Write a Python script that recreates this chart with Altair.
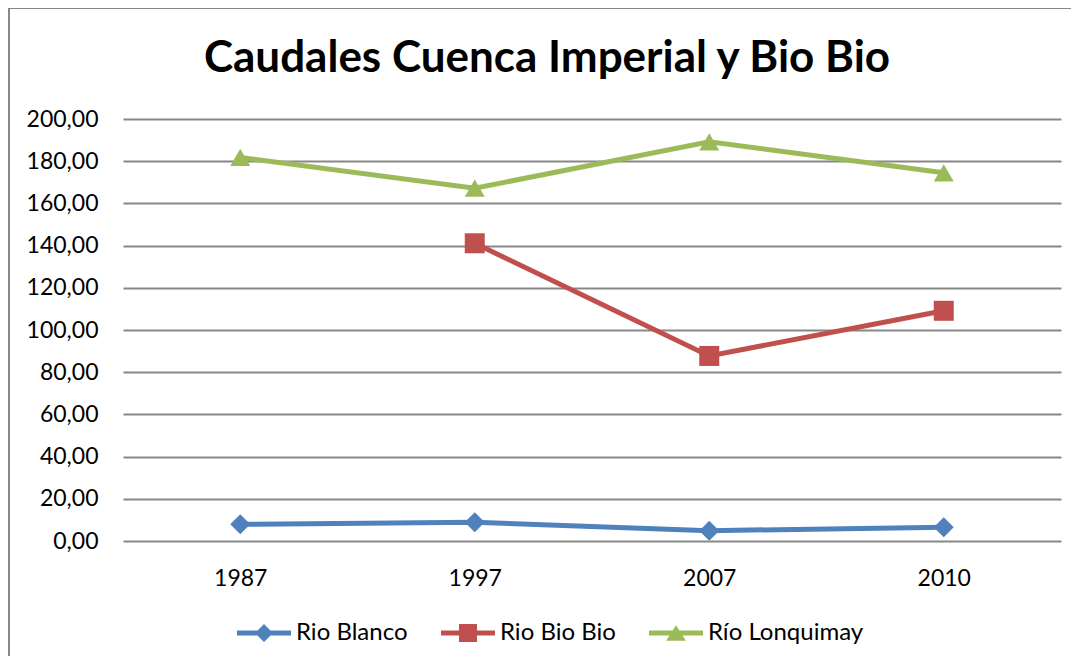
import altair as alt
import pandas as pd

years = ["1987", "1997", "2007", "2010"]
series = ["Rio Blanco", "Rio Bio Bio", "Río Lonquimay"]
rio_blanco = [7.9, 8.9, 4.9, 6.5]
rio_bio_bio = [None, 141.1, 87.7, 109.1]
rio_lonquimay = [181.8, 167.2, 189.2, 174.5]
colors = ["#4F81BD", "#C0504D", "#9BBB59"]
y_ticks = [0, 20, 40, 60, 80, 100, 120, 140, 160, 180, 200]

rows = []
for name, vals in zip(series, [rio_blanco, rio_bio_bio, rio_lonquimay]):
    for yr, v in zip(years, vals):
        if v is not None:
            rows.append({"year": yr, "value": v, "series": name})
df = pd.DataFrame(rows)

FONT = "Lato"

x_enc = alt.X("year:N", sort=years,
              scale=alt.Scale(type="point", domain=years, padding=0.5),
              axis=alt.Axis(title=None, domain=False, ticks=False, grid=False,
                            labelAngle=0, labelPadding=26, labelFontSize=23,
                            labelFont=FONT, labelColor="#000000"))
y_enc = alt.Y("value:Q",
              scale=alt.Scale(domain=[0, 200], nice=False, zero=True),
              axis=alt.Axis(title=None, domain=False, ticks=False, tickSize=0,
                            values=y_ticks, grid=True, gridColor="#878787",
                            gridWidth=2, labelPadding=25, labelFontSize=23,
                            labelFont=FONT, labelColor="#000000",
                            labelExpr="replace(format(datum.value, '.2f'), '.', ',')"))

color_scale = alt.Scale(domain=series, range=colors)

lines = alt.Chart(df).mark_line(strokeWidth=5).encode(
    x=x_enc, y=y_enc,
    color=alt.Color("series:N", scale=color_scale, legend=None),
)

points = alt.Chart(df).mark_point(filled=True, opacity=1, size=400).encode(
    x=x_enc, y=y_enc,
    color=alt.Color("series:N", scale=color_scale, legend=None),
    shape=alt.Shape("series:N",
                    scale=alt.Scale(domain=series, range=["diamond", "square", "triangle-up"]),
                    legend=None),
)

legend_paths = [
    "M0,-1L1,0L0,1L-1,0Z M-3,-0.28H3V0.28H-3Z",
    "M-1,-1H1V1H-1Z M-3,-0.28H3V0.28H-3Z",
    "M0,-0.85L1.1,0.85H-1.1Z M-3,-0.28H3V0.28H-3Z",
]

legend_opts = dict(title=None, orient="none", direction="horizontal",
                   legendX=129, legendY=502,
                   symbolSize=324, symbolStrokeWidth=0,
                   symbolOpacity=1, labelOffset=20,
                   labelFontSize=24, labelFont=FONT,
                   labelColor="#000000", columnPadding=33,
                   padding=0, labelLimit=300)

legend_layer = alt.Chart(df).transform_filter("datum.value < -1000").mark_point(
    filled=True, opacity=1).encode(
    x=x_enc, y=y_enc,
    color=alt.Color("series:N", scale=color_scale, legend=alt.Legend(**legend_opts)),
    shape=alt.Shape("series:N", scale=alt.Scale(domain=series, range=legend_paths),
                    legend=alt.Legend(**legend_opts)),
)

frame_df = pd.DataFrame({"k": [0]})
left_border = alt.Chart(frame_df).mark_rule(color="#878787", strokeWidth=2).encode(
    x=alt.value(-114), y=alt.value(-111), y2=alt.value(540))
top_border = alt.Chart(frame_df).mark_rule(color="#878787", strokeWidth=2).encode(
    x=alt.value(-115), x2=alt.value(960), y=alt.value(-111))

chart = alt.layer(left_border, top_border, lines, points, legend_layer).resolve_scale(
    color="independent", shape="independent"
).properties(
    width=938, height=422,
    title=alt.TitleParams("Caudales Cuenca Imperial y Bio Bio", font=FONT,
                          fontSize=44, fontWeight="bold", color="#000000",
                          anchor="middle", dx=-45, offset=-109, baseline="alphabetic"),
    autosize=alt.AutoSizeParams(type="none"),
    padding={"left": 115, "top": 111, "right": 10, "bottom": 115},
).configure_view(stroke=None)

chart.save("out.html", embed_options={"renderer": "svg", "actions": False})
